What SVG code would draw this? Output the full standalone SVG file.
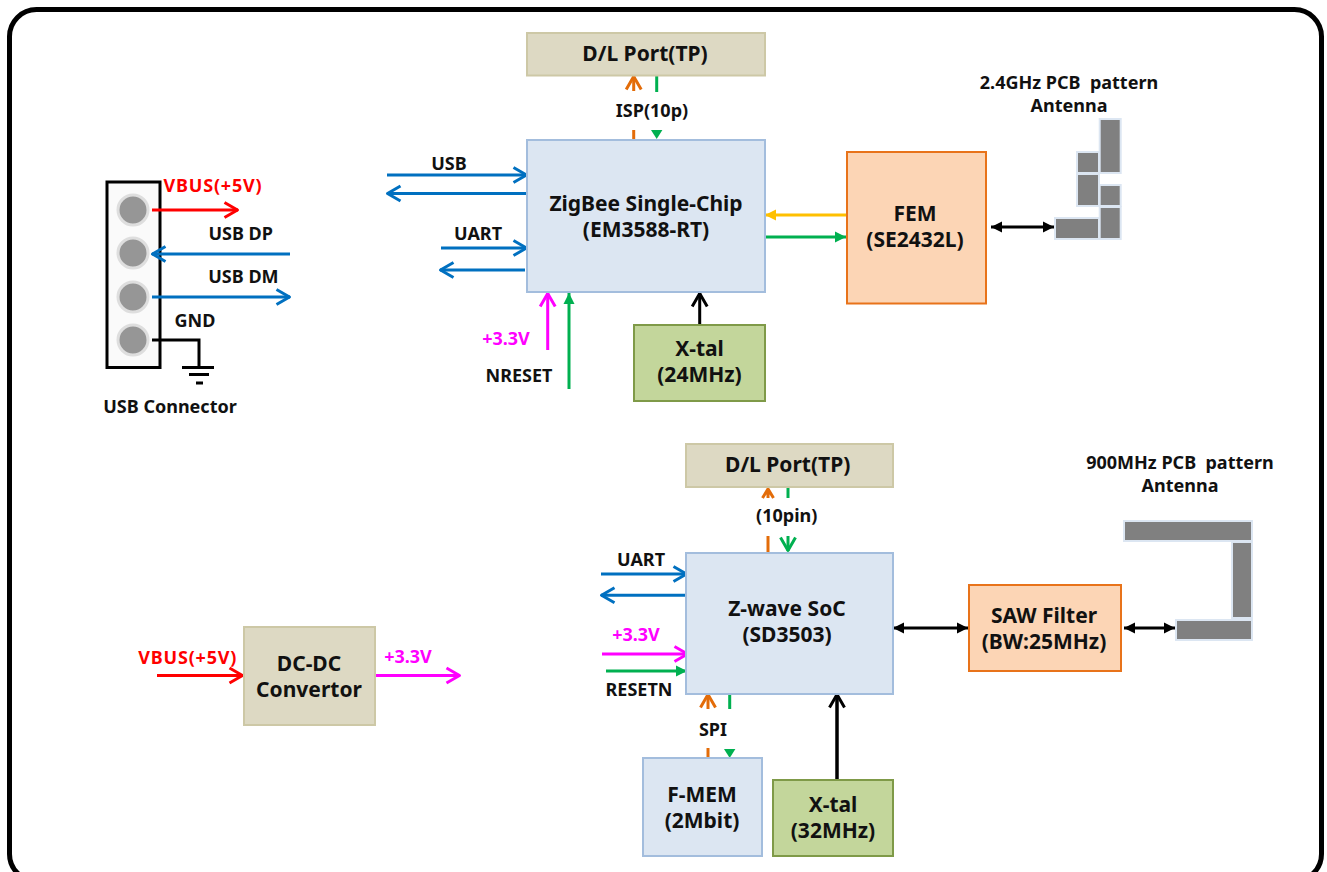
<svg xmlns="http://www.w3.org/2000/svg" width="1327" height="872" viewBox="0 0 1327 872">
<style>
text{font-family:"Noto Sans","Open Sans","Liberation Sans",sans-serif;font-weight:700;text-anchor:middle;fill:#111;white-space:pre}
.b{font-size:21px}.l{font-size:18px}
.blue{fill:#dce6f2;stroke:#a3bddd;stroke-width:2}
.tan{fill:#ddd9c3;stroke:#cdc8a6;stroke-width:2}
.grn{fill:#c3d69b;stroke:#7f9a48;stroke-width:2}
.org{fill:#fcd5b5;stroke:#e8731a;stroke-width:2}
.ant{fill:#808080;stroke:#dce6f2;stroke-width:2}
.pin{fill:#969696;stroke:#dedede;stroke-width:3}
.c{fill:none;stroke-width:3}
.red{stroke:#f00}.bl{stroke:#0070c0}.mg{stroke:#f0f}.or{stroke:#e36c09}.gn{stroke:#00b050}.yl{stroke:#ffc000}.k{stroke:#000}
.tr{fill:#f00;letter-spacing:.8px}.tm{fill:#f0f}
.v{fill:none;stroke-width:3;stroke-linejoin:round}
</style>
<defs>
<marker id="oR" markerUnits="userSpaceOnUse" markerWidth="20" markerHeight="20" refX="16.500" refY="10" orient="auto-start-reverse"><path class="v" d="M3 2.500L16 10L3 17.500" stroke="#f00"/></marker>
<marker id="oB" markerUnits="userSpaceOnUse" markerWidth="20" markerHeight="20" refX="16.500" refY="10" orient="auto-start-reverse"><path class="v" d="M3 2.500L16 10L3 17.500" stroke="#0070c0"/></marker>
<marker id="oM" markerUnits="userSpaceOnUse" markerWidth="20" markerHeight="20" refX="16.500" refY="10" orient="auto-start-reverse"><path class="v" d="M3 2.500L16 10L3 17.500" stroke="#f0f"/></marker>
<marker id="oO" markerUnits="userSpaceOnUse" markerWidth="20" markerHeight="20" refX="16.500" refY="10" orient="auto-start-reverse"><path class="v" d="M3 2.500L16 10L3 17.500" stroke="#e36c09"/></marker>
<marker id="oG" markerUnits="userSpaceOnUse" markerWidth="20" markerHeight="20" refX="16.500" refY="10" orient="auto-start-reverse"><path class="v" d="M3 2.500L16 10L3 17.500" stroke="#00b050"/></marker>
<marker id="oK" markerUnits="userSpaceOnUse" markerWidth="20" markerHeight="20" refX="16.500" refY="10" orient="auto-start-reverse"><path class="v" d="M3 2.500L16 10L3 17.500" stroke="#000"/></marker>
<marker id="tG" markerUnits="userSpaceOnUse" markerWidth="12" markerHeight="14" refX="11" refY="7" orient="auto-start-reverse"><path d="M0 1.500L11 7L0 12.500Z" fill="#00b050"/></marker>
<marker id="tY" markerUnits="userSpaceOnUse" markerWidth="12" markerHeight="14" refX="11" refY="7" orient="auto-start-reverse"><path d="M0 1.500L11 7L0 12.500Z" fill="#ffc000"/></marker>
<marker id="tK" markerUnits="userSpaceOnUse" markerWidth="12" markerHeight="14" refX="11" refY="7" orient="auto-start-reverse"><path d="M0 1.500L11 7L0 12.500Z" fill="#000"/></marker>
</defs>

<rect id="frame" x="9.500" y="9.500" width="1312" height="871.500" rx="27" fill="#fff" stroke="#000" stroke-width="5"/>

<g id="usb-connector">
<rect x="107" y="182" width="53" height="185.500" fill="#fafafa" stroke="#000" stroke-width="3"/>
<circle class="pin" cx="133" cy="210" r="15"/><circle class="pin" cx="133" cy="253" r="15"/><circle class="pin" cx="133" cy="297" r="15"/><circle class="pin" cx="133" cy="340" r="15"/>
<text class="l" x="170" y="413">USB Connector</text>
</g>

<g id="connectors">
<path class="c red" d="M152 210H238" marker-end="url(#oR)"/>
<path class="c bl" d="M290 254H152" marker-end="url(#oB)"/>
<path class="c bl" d="M152 297H290" marker-end="url(#oB)"/>
<path class="c k" d="M152 340H199V367M182 367.500H214M189 374.500H209M196 383H203"/>

<path class="c or" d="M633.700 91V76" marker-end="url(#oO)"/>
<path class="c or" d="M633.700 130V140"/>
<path class="c gn" d="M656.700 76V92"/>
<path d="M651 130H662.400L656.700 139Z" fill="#00b050"/>

<path class="c bl" d="M387 175H527" marker-end="url(#oB)"/>
<path class="c bl" d="M527 193.500H387" marker-end="url(#oB)"/>
<path class="c bl" d="M441 248H527" marker-end="url(#oB)"/>
<path class="c bl" d="M525 270H440" marker-end="url(#oB)"/>
<path class="c mg" d="M547.700 350V293" marker-end="url(#oM)"/>
<path class="c gn" d="M569 389V293" marker-end="url(#tG)"/>
<path class="c k" d="M699.700 325V293" marker-end="url(#oK)"/>
<path class="c yl" d="M847 215H765" marker-end="url(#tY)"/>
<path class="c gn" d="M765 237H846" marker-end="url(#tG)"/>
<path class="c k" d="M991 227H1054" marker-start="url(#tK)" marker-end="url(#tK)"/>

<path class="c or" d="M768 498V489M762.500 498L768 489L773.500 498"/>
<path class="c or" d="M768 536V553"/>
<path class="c gn" d="M788 488V498"/>
<path class="c gn" d="M788 536V551" marker-end="url(#oG)"/>
<path class="c bl" d="M601 574H687" marker-end="url(#oB)"/>
<path class="c bl" d="M686 595.300H601" marker-end="url(#oB)"/>
<path class="c mg" d="M602 654H688" marker-end="url(#oM)"/>
<path class="c gn" d="M606 671H687" marker-end="url(#tG)"/>
<path class="c or" d="M708 709V694" marker-end="url(#oO)"/>
<path class="c or" d="M708 748V758"/>
<path class="c gn" d="M729.700 694V709"/>
<path d="M724 749H735.400L729.700 758Z" fill="#00b050"/>
<path class="c k" style="stroke-width:3.500" d="M837 780V694" marker-end="url(#oK)"/>
<path class="c k" d="M893 628H968" marker-start="url(#tK)" marker-end="url(#tK)"/>
<path class="c k" d="M1124 628H1175" marker-start="url(#tK)" marker-end="url(#tK)"/>
<path class="c red" d="M157 675.500H243" marker-end="url(#oR)"/>
<path class="c mg" d="M374 675.500H460" marker-end="url(#oM)"/>
</g>

<g id="labels">
<text class="l tr" x="213" y="192">VBUS(+5V)</text>
<text class="l" x="240.700" y="240">USB DP</text>
<text class="l" x="243.400" y="283">USB DM</text>
<text class="l" x="195" y="327">GND</text>
<text class="l" x="652" y="117">ISP(10p)</text>
<text class="l" x="449" y="170">USB</text>
<text class="l" x="478" y="240">UART</text>
<text class="l tm" x="506" y="344.500">+3.3V</text>
<text class="l" x="519" y="381.500">NRESET</text>
<text class="l" x="786.700" y="522">(10pin)</text>
<text class="l" x="641" y="565.500">UART</text>
<text class="l tm" x="636" y="641">+3.3V</text>
<text class="l" x="639" y="695.500">RESETN</text>
<text class="l" x="713" y="735.500">SPI</text>
<text class="l tr" x="187.700" y="664">VBUS(+5V)</text>
<text class="l tm" x="408" y="663">+3.3V</text>
</g>

<g id="dl-port-top"><rect class="tan" x="527" y="33" width="238" height="42.500"/><text class="b" x="645" y="60.500">D/L Port(TP)</text></g>
<g id="zigbee"><rect class="blue" x="527" y="140" width="238" height="152"/><text class="b" x="646" y="210.500">ZigBee Single-Chip</text><text class="b" x="646" y="236.500">(EM3588-RT)</text></g>
<g id="xtal-24"><rect class="grn" x="634" y="325" width="131" height="76"/><text class="b" x="699.500" y="356">X-tal</text><text class="b" x="699.500" y="382">(24MHz)</text></g>
<g id="fem"><rect class="org" x="847" y="152" width="139" height="151.500"/><text class="b" x="915" y="221">FEM</text><text class="b" x="915" y="247">(SE2432L)</text></g>
<g id="antenna-24">
<rect class="ant" x="1099.700" y="119" width="21" height="54"/><rect class="ant" x="1077" y="152" width="22" height="21"/><rect class="ant" x="1077" y="174" width="22" height="32"/><rect class="ant" x="1099.700" y="185" width="21" height="21"/><rect class="ant" x="1099.700" y="207" width="21" height="32"/><rect class="ant" x="1055" y="218" width="44" height="21"/>
<text class="l" x="1069" y="89">2.4GHz PCB  pattern</text><text class="l" x="1069" y="112">Antenna</text>
</g>
<g id="dl-port-bottom"><rect class="tan" x="686" y="444" width="207" height="43"/><text class="b" x="787.700" y="472">D/L Port(TP)</text></g>
<g id="zwave"><rect class="blue" x="686" y="553" width="207" height="141"/><text class="b" x="787" y="616">Z-wave SoC</text><text class="b" x="787" y="642">(SD3503)</text></g>
<g id="fmem"><rect class="blue" x="643" y="758" width="119" height="98"/><text class="b" x="702" y="802">F-MEM</text><text class="b" x="702" y="828">(2Mbit)</text></g>
<g id="xtal-32"><rect class="grn" x="773" y="780" width="120" height="76"/><text class="b" x="833" y="811.500">X-tal</text><text class="b" x="833" y="838">(32MHz)</text></g>
<g id="saw"><rect class="org" x="969" y="585" width="152" height="86"/><text class="b" x="1044" y="622.500">SAW Filter</text><text class="b" x="1044" y="648.500">(BW:25MHz)</text></g>
<g id="antenna-900">
<rect class="ant" x="1124" y="521" width="128" height="20"/><rect class="ant" x="1232" y="542" width="20" height="76"/><rect class="ant" x="1176" y="620" width="76" height="20"/>
<text class="l" x="1180" y="469">900MHz PCB  pattern</text><text class="l" x="1180" y="492">Antenna</text>
</g>
<g id="dcdc"><rect class="tan" x="244" y="627" width="131" height="98"/><text class="b" x="309" y="671">DC-DC</text><text class="b" x="309" y="697">Convertor</text></g>
</svg>
